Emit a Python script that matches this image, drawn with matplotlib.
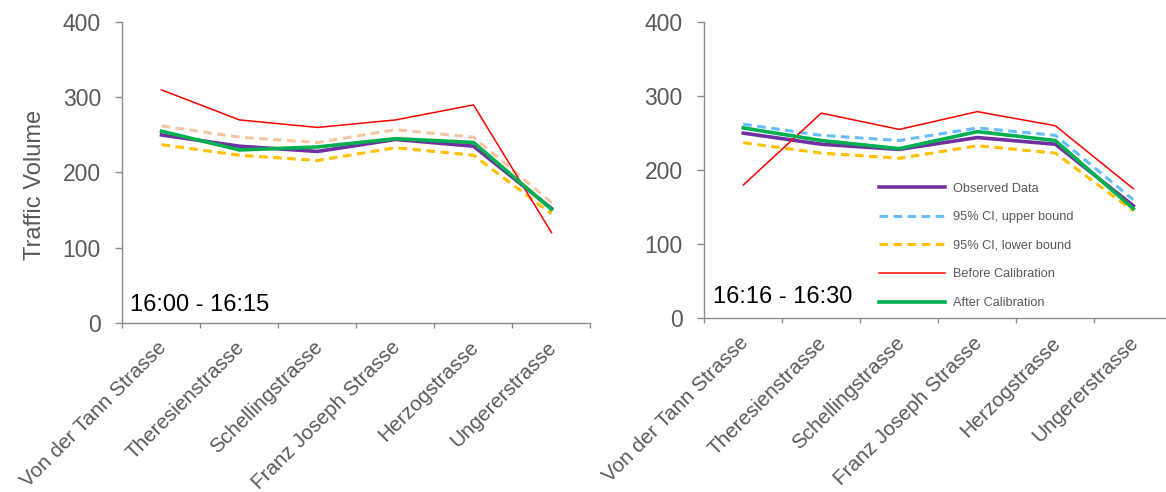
import numpy as np
import matplotlib
matplotlib.use("Agg")
import matplotlib.pyplot as plt
from matplotlib import font_manager
from matplotlib.transforms import ScaledTranslation

plt.rcParams["font.family"] = ["Liberation Sans", "DejaVu Sans"]

# ---- data -------------------------------------------------------------
streets = ["Von der Tann Strasse", "Theresienstrasse", "Schellingstrasse",
           "Franz Joseph Strasse", "Herzogstrasse", "Ungererstrasse"]
y_ticks = [0, 100, 200, 300, 400]

observed = [250, 235, 228, 244, 235, 152]
ci_upper = [262, 247, 240, 257, 247, 160]
ci_lower = [237, 223, 216, 233, 223, 145]

before_1600 = [310, 270, 260, 270, 290, 120]
after_1600 = [255, 230, 234, 245, 240, 151]

before_1616 = [180, 277, 255, 279, 260, 175]
after_1616 = [257, 240, 229, 252, 240, 148]

period_labels = ["16:00 - 16:15", "16:16 - 16:30"]
series_names = ["Observed Data", "95% CI, upper bound", "95% CI, lower bound",
                "Before Calibration", "After Calibration"]

# ---- styling ------------------------------------------------------------
AXIS_GREY = "#8c8c8c"
TEXT_GREY = "#595959"
PURPLE = "#7030a0"
PEACH = "#f6c6a4"
SKY = "#66bdf7"
AMBER = "#ffc000"
RED = "#ff0000"
GREEN = "#00b050"
DASH = (2.8, 1.8)

fig = plt.figure(figsize=(11.66, 4.92), dpi=100)
ax1 = fig.add_axes([0.10506, 0.34411, 0.40137, 0.61057])
ax2 = fig.add_axes([0.60403, 0.35305, 0.40137, 0.60224])

x = np.arange(len(streets))


def style_axes(ax):
    for side in ("top", "right"):
        ax.spines[side].set_visible(False)
    for side in ("left", "bottom"):
        ax.spines[side].set_color(AXIS_GREY)
        ax.spines[side].set_linewidth(1.0)
    ax.set_ylim(0, 400)
    ax.set_yticks(y_ticks)
    ax.set_xlim(-0.5, len(streets) - 0.5)
    ax.set_xticks(x)
    ax.set_xticklabels(streets, rotation=45, ha="right", va="center",
                       rotation_mode="anchor")
    ax.set_xticks(np.arange(-0.5, len(streets), 1.0), minor=True)
    ax.tick_params(axis="x", which="major", length=0, pad=15.5,
                   labelsize=14.9, labelcolor=TEXT_GREY)
    ax.tick_params(axis="x", which="minor", length=3.8, width=1.0,
                   color=AXIS_GREY)
    ax.tick_params(axis="y", length=5, width=1.0, color=AXIS_GREY, pad=10.5,
                   labelsize=16.5, labelcolor=TEXT_GREY)
    shift = ScaledTranslation(2.0 / 100, 0, fig.dpi_scale_trans)
    for lab in ax.get_xticklabels():
        lab.set_transform(lab.get_transform() + shift)


def draw_series(ax, upper_color, before, after):
    lines = []
    lines += ax.plot(x, observed, color=PURPLE, lw=2.6, solid_joinstyle="round")
    lines += ax.plot(x, ci_upper, color=upper_color, lw=2.2, ls=(0, DASH))
    lines += ax.plot(x, ci_lower, color=AMBER, lw=2.2, ls=(0, DASH))
    lines += ax.plot(x, before, color=RED, lw=1.1)
    lines += ax.plot(x, after, color=GREEN, lw=2.6, solid_joinstyle="round")
    return lines


style_axes(ax1)
style_axes(ax2)

draw_series(ax1, PEACH, before_1600, after_1600)
handles = draw_series(ax2, SKY, before_1616, after_1616)

ax1.set_ylabel("Traffic Volume", fontsize=17, color=TEXT_GREY, va="center")
ax1.yaxis.set_label_coords(-0.188, 0.458)

ax1.text(0.016, 0.040, period_labels[0], transform=ax1.transAxes,
         fontsize=17, color="black", ha="left", va="baseline")
ax2.text(0.018, 0.0506, period_labels[1], transform=ax2.transAxes,
         fontsize=17, color="black", ha="left", va="baseline")

narrow = any(f.name == "Liberation Sans Narrow"
             for f in font_manager.fontManager.ttflist)
if narrow:
    legend_font = {"family": "Liberation Sans Narrow", "size": 10.8}
else:
    legend_font = {"family": "Liberation Sans", "size": 9.2}

leg = ax2.legend(handles, series_names, loc="upper left",
                 bbox_to_anchor=(0.3733, 0.458), frameon=False,
                 borderpad=0, borderaxespad=0, handlelength=5.2,
                 handletextpad=0.6, labelspacing=1.3, prop=legend_font)
for t in leg.get_texts():
    t.set_color(TEXT_GREY)

fig.savefig("out.png", dpi=100)
